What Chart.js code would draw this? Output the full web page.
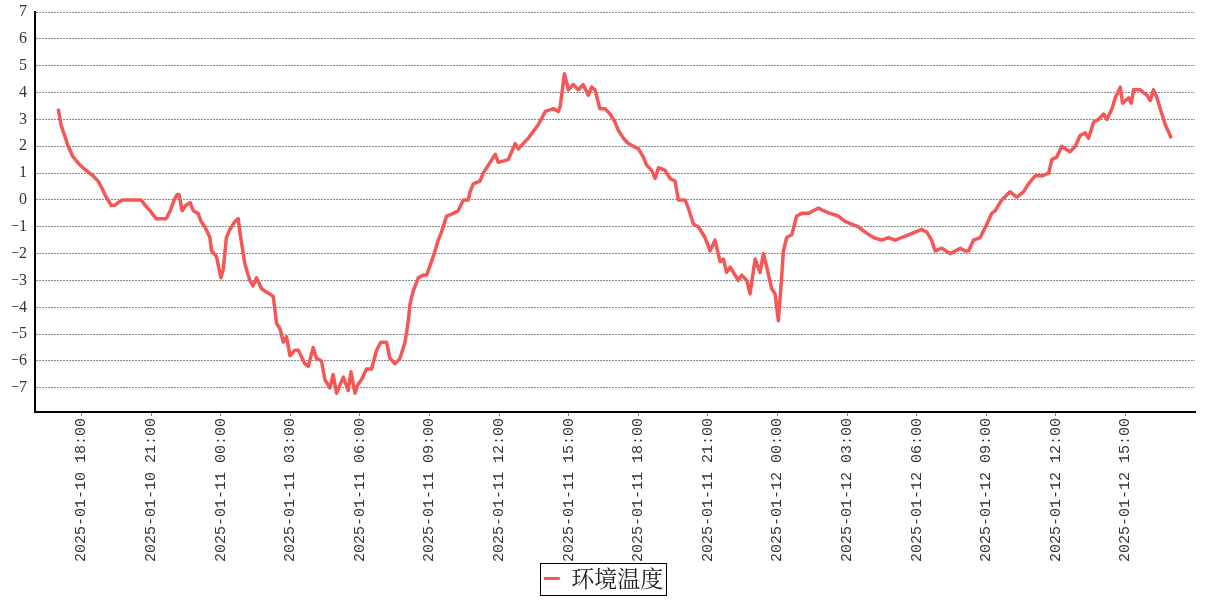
<!DOCTYPE html>
<html>
<head>
<meta charset="utf-8">
<script src="https://cdn.jsdelivr.net/npm/chart.js@4/dist/chart.umd.min.js"></script>
<style>
  body { margin: 0; background: #fff; }
  #wrap { width: 1207px; height: 600px; }
</style>
</head>
<body>
<div id="wrap"><canvas id="myChart" width="1207" height="600"></canvas></div>
<script>
// hours counted from 2025-01-10 00:00
const hours = [
  17.00, 17.12, 17.43, 17.64, 17.94, 18.20, 18.50, 18.72, 18.85, 19.07,
  19.15, 19.28, 19.45, 19.58, 19.76, 19.93, 20.45, 20.57, 20.75, 20.96,
  21.22, 21.65, 21.83, 22.00, 22.13, 22.21, 22.34, 22.51, 22.69, 22.82,
  23.03, 23.16, 23.32, 23.54, 23.61, 23.82, 24.01, 24.11, 24.25, 24.40,
  24.62, 24.76, 24.83, 25.05, 25.26, 25.40, 25.55, 25.76, 25.91, 26.12,
  26.27, 26.41, 26.56, 26.70, 26.84, 26.99, 27.20, 27.35, 27.63, 27.78,
  27.99, 28.13, 28.35, 28.50, 28.71, 28.85, 29.00, 29.14, 29.29, 29.50,
  29.62, 29.79, 29.90, 30.07, 30.29, 30.51, 30.72, 30.91, 31.15, 31.30,
  31.52, 31.73, 31.95, 32.09, 32.16, 32.30, 32.52, 32.74, 32.88, 33.09,
  33.24, 33.38, 33.52, 33.74, 34.03, 34.24, 34.46, 34.68, 34.75, 34.89,
  35.18, 35.32, 35.84, 35.97, 36.40, 36.70, 36.83, 37.26, 37.69, 38.00,
  38.34, 38.56, 38.64, 38.82, 38.99, 39.20, 39.42, 39.63, 39.85, 39.99,
  40.14, 40.35, 40.57, 40.79, 41.00, 41.14, 41.36, 41.58, 41.79, 42.01,
  42.22, 42.36, 42.58, 42.73, 42.87, 43.16, 43.37, 43.59, 43.73, 44.02,
  44.16, 44.38, 44.59, 44.88, 45.10, 45.31, 45.53, 45.67, 45.81, 45.96,
  46.32, 46.46, 46.68, 46.82, 47.04, 47.25, 47.40, 47.54, 47.75, 47.90,
  48.04, 48.12, 48.26, 48.40, 48.62, 48.83, 49.05, 49.34, 49.55, 49.77,
  49.98, 50.27, 50.63, 50.92, 51.20, 51.49, 51.78, 52.14, 52.50, 52.79,
  53.08, 53.36, 53.65, 53.94, 54.22, 54.44, 54.65, 54.80, 55.09, 55.45,
  55.88, 56.09, 56.24, 56.45, 56.74, 57.03, 57.24, 57.39, 57.67, 58.03,
  58.32, 58.61, 58.82, 59.11, 59.40, 59.69, 59.83, 60.04, 60.26, 60.41,
  60.62, 60.84, 61.05, 61.27, 61.41, 61.63, 61.84, 62.06, 62.20, 62.42,
  62.56, 62.78, 62.88, 63.14, 63.25, 63.35, 63.64, 63.78, 63.93, 64.07,
  64.21, 64.36, 64.50, 64.72, 64.98
];
const temps = [
  3.4, 2.8, 2.0, 1.6, 1.3, 1.1, 0.9, 0.7, 0.5, 0.1,
  0.0, -0.2, -0.2, -0.1, 0.0, 0.0, 0.0, 0.0, -0.2, -0.4,
  -0.7, -0.7, -0.4, 0.0, 0.2, 0.2, -0.4, -0.2, -0.1, -0.4,
  -0.5, -0.8, -1.0, -1.4, -1.9, -2.1, -2.9, -2.6, -1.4, -1.1,
  -0.8, -0.7, -1.2, -2.4, -3.0, -3.2, -2.9, -3.3, -3.4, -3.5,
  -3.6, -4.6, -4.8, -5.3, -5.1, -5.8, -5.6, -5.6, -6.1, -6.2,
  -5.5, -5.9, -6.0, -6.7, -7.0, -6.5, -7.2, -6.9, -6.6, -7.1,
  -6.4, -7.2, -6.9, -6.7, -6.3, -6.3, -5.6, -5.3, -5.3, -5.9,
  -6.1, -5.9, -5.3, -4.5, -3.9, -3.4, -2.9, -2.8, -2.8, -2.3,
  -1.9, -1.5, -1.2, -0.6, -0.5, -0.4, 0.0, 0.0, 0.3, 0.6,
  0.7, 1.0, 1.7, 1.4, 1.5, 2.1, 1.9, 2.3, 2.8, 3.3,
  3.4, 3.3, 3.5, 4.7, 4.1, 4.3, 4.1, 4.3, 3.9, 4.2,
  4.1, 3.4, 3.4, 3.2, 2.9, 2.6, 2.3, 2.1, 2.0, 1.9,
  1.6, 1.3, 1.1, 0.8, 1.2, 1.1, 0.8, 0.7, 0.0, 0.0,
  -0.3, -0.9, -1.0, -1.4, -1.9, -1.5, -2.3, -2.2, -2.7, -2.5,
  -3.0, -2.8, -3.0, -3.5, -2.2, -2.7, -2.0, -2.5, -3.3, -3.5,
  -4.5, -3.6, -1.9, -1.4, -1.3, -0.6, -0.5, -0.5, -0.4, -0.3,
  -0.4, -0.5, -0.6, -0.8, -0.9, -1.0, -1.2, -1.4, -1.5, -1.4,
  -1.5, -1.4, -1.3, -1.2, -1.1, -1.2, -1.5, -1.9, -1.8, -2.0,
  -1.8, -1.9, -1.9, -1.5, -1.4, -0.9, -0.5, -0.4, 0.0, 0.3,
  0.1, 0.3, 0.6, 0.9, 0.9, 1.0, 1.5, 1.6, 2.0, 1.9,
  1.8, 2.0, 2.4, 2.5, 2.3, 2.9, 3.0, 3.2, 3.0, 3.4,
  3.8, 4.2, 3.6, 3.8, 3.6, 4.1, 4.1, 4.0, 3.9, 3.7,
  4.1, 3.8, 3.4, 2.8, 2.3
];
const tickHours = [18, 21, 24, 27, 30, 33, 36, 39, 42, 45, 48, 51, 54, 57, 60, 63];
const tickLabels = [
  '2025-01-10 18:00', '2025-01-10 21:00', '2025-01-11 00:00', '2025-01-11 03:00',
  '2025-01-11 06:00', '2025-01-11 09:00', '2025-01-11 12:00', '2025-01-11 15:00',
  '2025-01-11 18:00', '2025-01-11 21:00', '2025-01-12 00:00', '2025-01-12 03:00',
  '2025-01-12 06:00', '2025-01-12 09:00', '2025-01-12 12:00', '2025-01-12 15:00'
];
const yTicks = [-7, -6, -5, -4, -3, -2, -1, 0, 1, 2, 3, 4, 5, 6, 7];

const lineColor = '#f55656';

// draws the thin black frame round the legend item
const legendFrame = {
  id: 'legendFrame',
  afterDraw(chart) {
    const hb = chart.legend.legendHitBoxes[0];
    if (!hb) return;
    const ctx = chart.ctx;
    ctx.save();
    ctx.strokeStyle = '#000';
    ctx.lineWidth = 1;
    ctx.strokeRect(Math.round(hb.left) - 3.5, Math.round(hb.top) - 3.5, Math.round(hb.width) + 6, Math.round(hb.height) + 9);
    ctx.restore();
  }
};

const config = {
  type: 'line',
  data: {
    datasets: [{
      label: '环境温度',
      data: hours.map((h, i) => ({ x: h, y: temps[i] })),
      borderColor: lineColor,
      backgroundColor: lineColor,
      borderWidth: 3.5,
      pointRadius: 0,
      tension: 0,
      borderJoinStyle: 'round'
    }]
  },
  options: {
    responsive: false,
    animation: false,
    layout: { padding: { top: 12, right: 12, left: 12, bottom: 0 } },
    plugins: {
      tooltip: { enabled: false },
      legend: {
        position: 'bottom',
        labels: {
          boxWidth: 16,
          boxHeight: 3,
          padding: 3,
          color: '#222',
          font: { family: '"Noto Serif CJK SC", "Noto Sans CJK SC", serif', size: 23 },
          generateLabels: (chart) => Chart.defaults.plugins.legend.labels.generateLabels(chart)
            .map(l => ({ ...l, lineWidth: 0 }))
        }
      }
    },
    scales: {
      x: {
        type: 'linear',
        min: 16,
        max: 66,
        afterBuildTicks: (scale) => { scale.ticks = tickHours.map(v => ({ value: v })); },
        afterFit: (scale) => { scale.height = 152; },
        border: { display: true, color: '#000', width: 2 },
        grid: { drawOnChartArea: false, drawTicks: true, tickLength: 4, tickColor: '#888' },
        ticks: {
          autoSkip: false,
          minRotation: 90,
          maxRotation: 90,
          padding: 2,
          color: '#333',
          font: { family: '"Liberation Mono", monospace', size: 15 },
          callback: (v) => tickLabels[tickHours.indexOf(v)]
        }
      },
      y: {
        min: -7.9,
        max: 7,
        afterBuildTicks: (scale) => { scale.ticks = yTicks.map(v => ({ value: v })); },
        afterFit: (scale) => {
          scale.width = 23;
          scale.paddingTop = 0;
          scale.paddingBottom = 0;
        },
        border: { display: true, color: '#000', width: 2, dash: [2, 1] },
        grid: { color: '#888', lineWidth: 1, drawTicks: false },
        ticks: {
          padding: 8,
          color: '#333',
          font: { family: '"Liberation Serif", serif', size: 16 },
          callback: (v) => (v < 0 ? '\u2212' + Math.abs(v) : String(v))
        }
      }
    }
  },
  plugins: [legendFrame]
};

const myChart = new Chart(document.getElementById('myChart'), config);
</script>
</body>
</html>
